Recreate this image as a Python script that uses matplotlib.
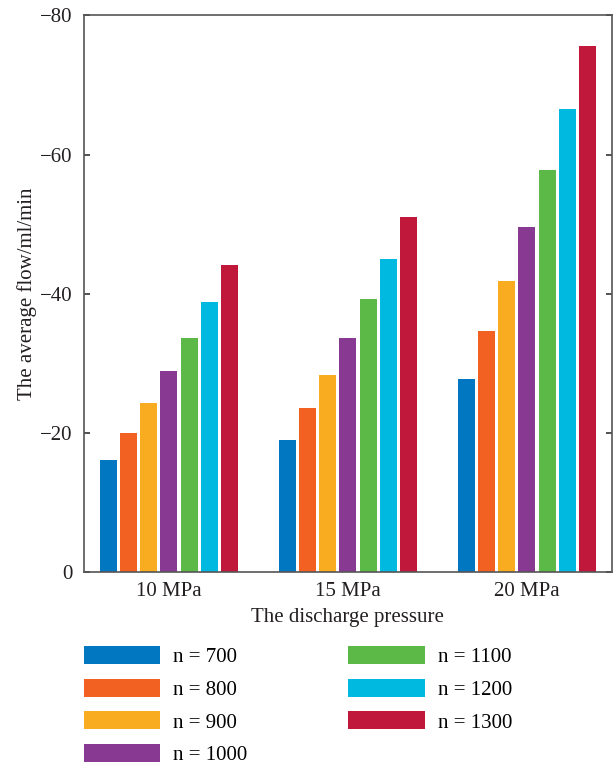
import matplotlib
matplotlib.use("Agg")
import matplotlib.pyplot as plt
import numpy as np

plt.rcParams['font.family'] = ['Liberation Serif', 'DejaVu Serif']
plt.rcParams['axes.unicode_minus'] = True

pressures = ["10 MPa", "15 MPa", "20 MPa"]
series_labels = ["n = 700", "n = 800", "n = 900", "n = 1000", "n = 1100", "n = 1200", "n = 1300"]
flow_700 = [-16.1, -19.0, -27.8]
flow_800 = [-20.0, -23.6, -34.6]
flow_900 = [-24.3, -28.4, -41.9]
flow_1000 = [-28.9, -33.6, -49.6]
flow_1100 = [-33.7, -39.2, -57.8]
flow_1200 = [-38.8, -45.0, -66.5]
flow_1300 = [-44.2, -51.0, -75.6]
all_series = [flow_700, flow_800, flow_900, flow_1000, flow_1100, flow_1200, flow_1300]
colors = ["#0077C0", "#F26122", "#FAAC21", "#883A92", "#5DB947", "#00B9E0", "#C0183A"]

fig = plt.figure(figsize=(6.13, 7.67), dpi=100)
ax = fig.add_axes([0.137, 0.254, 0.861, 0.726])

x = np.arange(1, len(pressures) + 1)
pitch = 0.113
width = 0.095
handles = []
for i, (vals, c, lab) in enumerate(zip(all_series, colors, series_labels)):
    b = ax.bar(x + (i - 3) * pitch, vals, width=width, color=c, label=lab, zorder=2)
    handles.append(b)

fs = 15
ax.set_xlim(0.525, 3.475)
ax.set_ylim(0, -80)
ax.set_yticks([0, -20, -40, -60, -80])
ax.set_yticklabels(["0", "\u221220", "\u221240", "\u221260", "\u221280"])
ax.set_xticks(x)
ax.set_xticklabels(pressures)
ax.tick_params(axis='both', direction='in', length=4, width=1.2, labelsize=fs, colors='#333333',
               labelcolor='#231F20')
ax.tick_params(axis='y', right=True, pad=8)
ax.tick_params(axis='x', pad=7)
for s in ax.spines.values():
    s.set_color('#555555')
    s.set_linewidth(1.2)

ax.set_xlabel("The discharge pressure", fontsize=fs, color='#231F20', labelpad=5)
ax.set_ylabel("The average flow/ml/min", fontsize=fs, color='#231F20', labelpad=2)

fig.legend(handles=handles, labels=series_labels, ncol=2, loc='upper left',
           bbox_to_anchor=(84 / 613, 1 - 646 / 767), frameon=False, fontsize=fs,
           handlelength=3.65, handleheight=0.96, handletextpad=0.63, labelspacing=0.55,
           columnspacing=4.85, borderpad=0, borderaxespad=0)

fig.savefig("out.png", dpi=100)
